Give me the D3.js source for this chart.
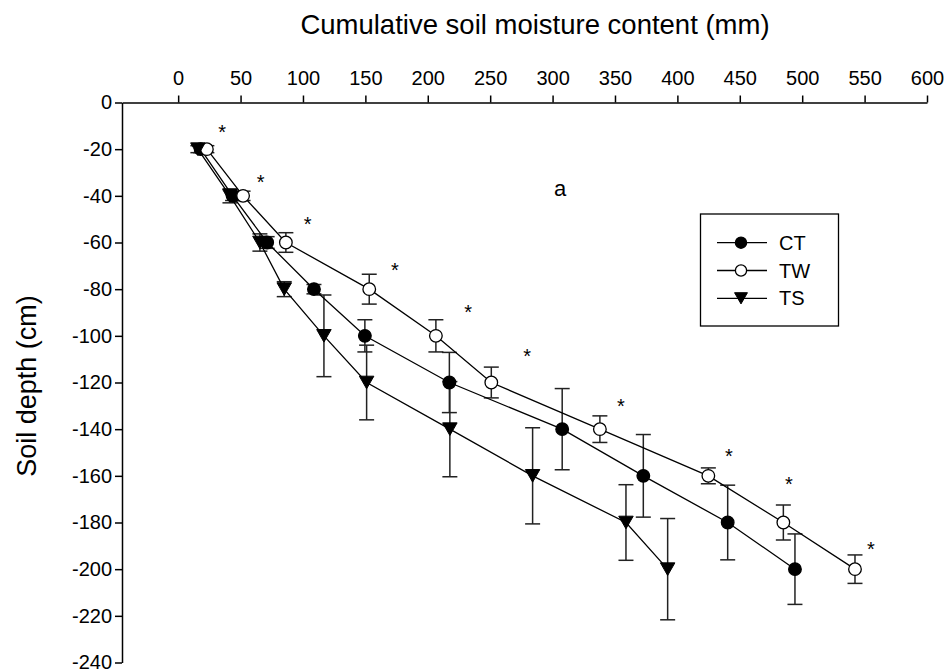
<!DOCTYPE html>
<html>
<head>
<meta charset="utf-8">
<script src="https://cdn.jsdelivr.net/npm/d3@7"></script>
<style>
  html, body { margin: 0; padding: 0; background: #fff; }
  svg { display: block; font-family: "Liberation Sans", Arial, Helvetica, sans-serif; }
</style>
</head>
<body>
<svg id="chart" width="950" height="672"></svg>
<script>
// Soil depth levels (cm) shared by all three treatments
const depths = [-20, -40, -60, -80, -100, -120, -140, -160, -180, -200];

// Cumulative soil moisture content (mm) per treatment
const ctValues = [18, 43.6, 71.3, 108.8, 149.6, 217.3, 307.7, 372.7, 440.3, 494.2];
const twValues = [23, 52, 86.3, 153.1, 206.5, 250.9, 337.9, 424.8, 484.9, 542.3];
const tsValues = [15.8, 41.5, 65.5, 85, 116.8, 151, 217.7, 284, 358.8, 392.2];

// Vertical error bar half-lengths (cm)
const ctErr = [1.5, 2, 2.5, 2, 6.9, 12.9, 17.4, 17.7, 16, 15.1];
const twErr = [1.5, 2, 4.2, 6.4, 6.9, 6.6, 5.7, 3.4, 7.5, 6.1];
const tsErr = [1.5, 3, 3.7, 3.2, 17.5, 16, 20.4, 20.6, 16.2, 21.7];

// Significance marks (x in mm, y in cm)
const starX = [35.3, 66, 103.7, 173.7, 232.4, 279.7, 354.8, 441.3, 489.4, 555];
const starY = [-11, -32.5, -50.4, -70, -88, -106.8, -128.2, -149.7, -161.8, -189.6];

// Axis ticks
const xTicks = [0, 50, 100, 150, 200, 250, 300, 350, 400, 450, 500, 550, 600];
const yTicks = [0, -20, -40, -60, -80, -100, -120, -140, -160, -180, -200, -220, -240];

const seriesNames = ["CT", "TW", "TS"];

const series = [
  { name: "CT", values: ctValues, err: ctErr, symbol: "circle", fill: "#000" },
  { name: "TW", values: twValues, err: twErr, symbol: "circle", fill: "#fff" },
  { name: "TS", values: tsValues, err: tsErr, symbol: "triangle", fill: "#000" }
];

const svg = d3.select("#chart");

const x = d3.scaleLinear().domain([-45, 600]).range([122, 927]);
const y = d3.scaleLinear().domain([0, -240]).range([102.5, 662.5]);

// Axes (plain hyphen for negative labels)
const fmt = d => String(d);
const xAxis = d3.axisTop(x).tickValues(xTicks).tickFormat(fmt).tickSize(7).tickSizeOuter(0).tickPadding(11);
const yAxis = d3.axisLeft(y).tickValues(yTicks).tickFormat(fmt).tickSize(7).tickSizeOuter(0).tickPadding(3);

const gx = svg.append("g").attr("transform", `translate(0,${y(0)})`).call(xAxis);
const gy = svg.append("g").attr("transform", `translate(${x(-45)},0)`).call(yAxis);

[gx, gy].forEach(g => {
  g.selectAll("path.domain").attr("stroke", "#000").attr("stroke-width", 1.5);
  g.selectAll(".tick line").attr("stroke", "#000").attr("stroke-width", 1.5);
  g.selectAll(".tick text")
    .attr("fill", "#000")
    .style("font-size", "20px")
    .style("font-family", "'Liberation Sans', Arial, sans-serif");
});

// Axis titles
svg.append("text")
  .attr("x", 535).attr("y", 34)
  .attr("text-anchor", "middle")
  .style("font-size", "27.5px")
  .text("Cumulative soil moisture content (mm)");

svg.append("text")
  .attr("transform", `translate(36,386) rotate(-90)`)
  .attr("text-anchor", "middle")
  .style("font-size", "27px")
  .text("Soil depth (cm)");

// Panel letter
svg.append("text")
  .attr("x", x(306)).attr("y", y(-37.5) + 6)
  .attr("text-anchor", "middle")
  .style("font-size", "22px")
  .text("a");

const plot = svg.append("g");

// Error bars
const capHalf = 7.5;
series.forEach(s => {
  const g = plot.append("g").attr("stroke", "#222").attr("stroke-width", 1.5).attr("fill", "none");
  depths.forEach((d, i) => {
    const cx = x(s.values[i]);
    const y1 = y(d + s.err[i]);
    const y2 = y(d - s.err[i]);
    g.append("line").attr("x1", cx).attr("x2", cx).attr("y1", y1).attr("y2", y2);
    g.append("line").attr("x1", cx - capHalf).attr("x2", cx + capHalf).attr("y1", y1).attr("y2", y1);
    g.append("line").attr("x1", cx - capHalf).attr("x2", cx + capHalf).attr("y1", y2).attr("y2", y2);
  });
});

// Connecting lines
const line = d3.line().x(p => x(p[0])).y(p => y(p[1]));
series.forEach(s => {
  plot.append("path")
    .datum(depths.map((d, i) => [s.values[i], d]))
    .attr("d", line)
    .attr("fill", "none")
    .attr("stroke", "#000")
    .attr("stroke-width", 1.3);
});

// Symbols
function drawSymbol(g, s, cx, cy, r) {
  if (s.symbol === "circle") {
    g.append("circle").attr("cx", cx).attr("cy", cy).attr("r", r)
      .attr("fill", s.fill).attr("stroke", "#000").attr("stroke-width", 1.3);
  } else {
    const w = r * 1.15, h = r * 1.0;
    g.append("path")
      .attr("d", `M${cx - w},${cy - h}L${cx + w},${cy - h}L${cx},${cy + h}Z`)
      .attr("fill", s.fill).attr("stroke", "#000").attr("stroke-width", 1);
  }
}

series.forEach(s => {
  const g = plot.append("g");
  depths.forEach((d, i) => drawSymbol(g, s, x(s.values[i]), y(d), 6.3));
});

// Significance asterisks
svg.append("g").selectAll("text")
  .data(starX.map((v, i) => [v, starY[i]]))
  .join("text")
  .attr("x", p => x(p[0]))
  .attr("y", p => y(p[1]) + 11)
  .attr("text-anchor", "middle")
  .style("font-size", "20px")
  .text("*");

// Legend
const legend = svg.append("g");
legend.append("rect")
  .attr("x", 700.5).attr("y", 214).attr("width", 138).attr("height", 112)
  .attr("fill", "#fff").attr("stroke", "#000").attr("stroke-width", 1.3);

seriesNames.forEach((name, i) => {
  const s = series.find(t => t.name === name);
  const ly = 242.7 + i * 27.8;
  legend.append("line").attr("x1", 717).attr("x2", 767).attr("y1", ly).attr("y2", ly)
    .attr("stroke", "#000").attr("stroke-width", 1.3);
  drawSymbol(legend, s, 741, ly, 5.6);
  legend.append("text")
    .attr("x", 779).attr("y", ly + 7)
    .style("font-size", "20px")
    .text(name);
});
</script>
</body>
</html>
